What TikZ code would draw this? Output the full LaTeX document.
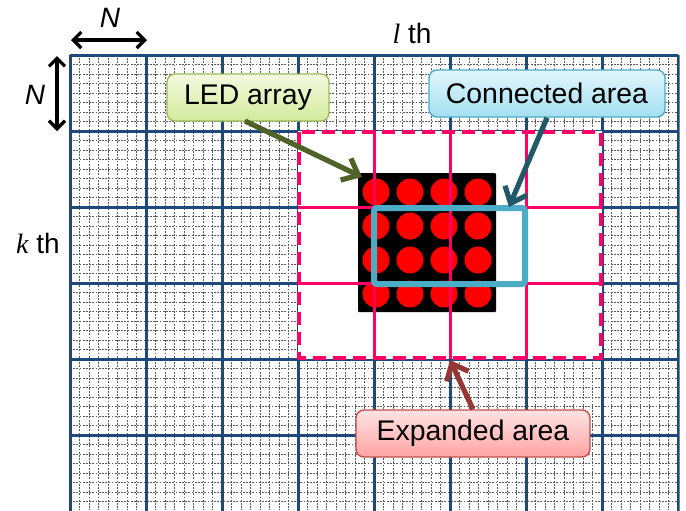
\documentclass[tikz,border=0pt]{standalone}
\usepackage{fontspec}
\setmainfont{Liberation Sans}
\newfontfamily\seriffam{Liberation Serif}
\usetikzlibrary{arrows.meta}
\definecolor{gridblue}{HTML}{1F497D}
\definecolor{pinkline}{HTML}{FF0066}
\definecolor{cyanbox}{HTML}{4BACC6}
\definecolor{ledarrowc}{HTML}{4F6228}
\definecolor{connarrowc}{HTML}{215968}
\definecolor{exparrowc}{HTML}{953735}
\definecolor{ledtop}{HTML}{F3FADF}
\definecolor{ledbot}{HTML}{D3EB9C}
\definecolor{ledborder}{HTML}{9BBB59}
\definecolor{conntop}{HTML}{E2F6FC}
\definecolor{connbot}{HTML}{A3E0F2}
\definecolor{exptop}{HTML}{FFE3E3}
\definecolor{expbot}{HTML}{FFA3A3}
\definecolor{expborder}{HTML}{C0504D}
\tikzset{
  finegrid/.style={black!65, line width=0.5pt, dash pattern=on 0.9pt off 0.7pt},
  majorgrid/.style={gridblue, line width=1.5pt},
  pinkgrid/.style={pinkline, line width=1.5pt},
  callout/.style={rounded corners=4pt, line width=0.7pt, minimum height=23.5pt, inner sep=0pt, font=\fontsize{14.2}{16}\selectfont},
  calloutarrow/.style={line width=2.6pt, -{Straight Barb[length=7pt,width=12pt,line width=2.6pt]}},
  dimarrow/.style={line width=1.6pt, {Straight Barb[length=4pt,width=8pt,line width=1.6pt]}-{Straight Barb[length=4pt,width=8pt,line width=1.6pt]}},
  lbl/.style={font=\fontsize{14}{16}\selectfont, inner sep=0pt}
}
\begin{document}
\begin{tikzpicture}[x=0.5pt,y=-0.5pt]
\useasboundingbox (0,0) rectangle (686,510);
% grid
\begin{scope}
\clip (69,54) rectangle (679.5,510);
\foreach \k in {1,...,63} { \draw[finegrid] ({70+9.5*\k},55) -- ({70+9.5*\k},510); }
\foreach \k in {1,...,48} { \draw[finegrid] (70,{55+9.5*\k}) -- (678,{55+9.5*\k}); }
\foreach \k in {0,...,8} { \draw[majorgrid] ({70+76*\k},55) -- ({70+76*\k},512); }
\foreach \k in {0,...,5} { \draw[majorgrid] (70,{55+76*\k}) -- (678,{55+76*\k}); }
\end{scope}
% expanded area background
\fill[white] (298,131) rectangle (602,359);
% LED array
\fill[black, rounded corners=0.5pt] (358,173) rectangle (496,312);
\foreach \cx in {376,410,444,478} {
  \foreach \cy in {192,226,260,294} {
    \fill[red] (\cx,\cy) circle[radius=13.5];
  }
}
% pink inner lines
\foreach \x in {374,450,526} { \draw[pinkgrid] (\x,131) -- (\x,359); }
\foreach \y in {207,283} { \draw[pinkgrid] (298,\y) -- (602,\y); }
% dashed border
\draw[pinkline, line width=2.2pt, dash pattern=on 6.5pt off 3.5pt] (299,132) rectangle (601,358);
% connected area
\draw[cyanbox, line width=3pt, rounded corners=1.5pt] (374,208) rectangle (525,284);
% labels
\node[lbl] (ntop) at (110,18) {\itshape N};
\node[lbl] (nleft) at (35,95) {\itshape N};
\coordinate (hA) at (71,40);
\coordinate (hB) at (147,40);
\coordinate (vA) at (57,56);
\coordinate (vB) at (57,131);
\draw[dimarrow] (hA) -- (hB);
\draw[dimarrow] (vA) -- (vB);
\node[lbl] (lth) at (412,33) {{\seriffam\itshape l} th};
\node[lbl] (kth) at (38,243) {{\seriffam\itshape k} th};
% callouts
\node[callout, draw=ledborder, top color=ledtop, bottom color=ledbot, minimum width=81pt] (led) at (248,97.5) {LED array};
\node[callout, draw=cyanbox, top color=conntop, bottom color=connbot, minimum width=118pt] (conn) at (547,93.5) {Connected area};
\node[callout, draw=expborder, top color=exptop, bottom color=expbot, minimum width=117pt] (exp) at (473,433.5) {Expanded area};
\coordinate (ledtip) at (362,177);
\coordinate (conntip) at (509,207);
\coordinate (exptip) at (450,360);
\coordinate (ledstart) at (245,121);
\draw[calloutarrow, ledarrowc] (ledstart) -- (ledtip);
\draw[calloutarrow, connarrowc] (conn.south) -- (conntip);
\draw[calloutarrow, exparrowc] (exp.north) -- (exptip);
\end{tikzpicture}
\end{document}
